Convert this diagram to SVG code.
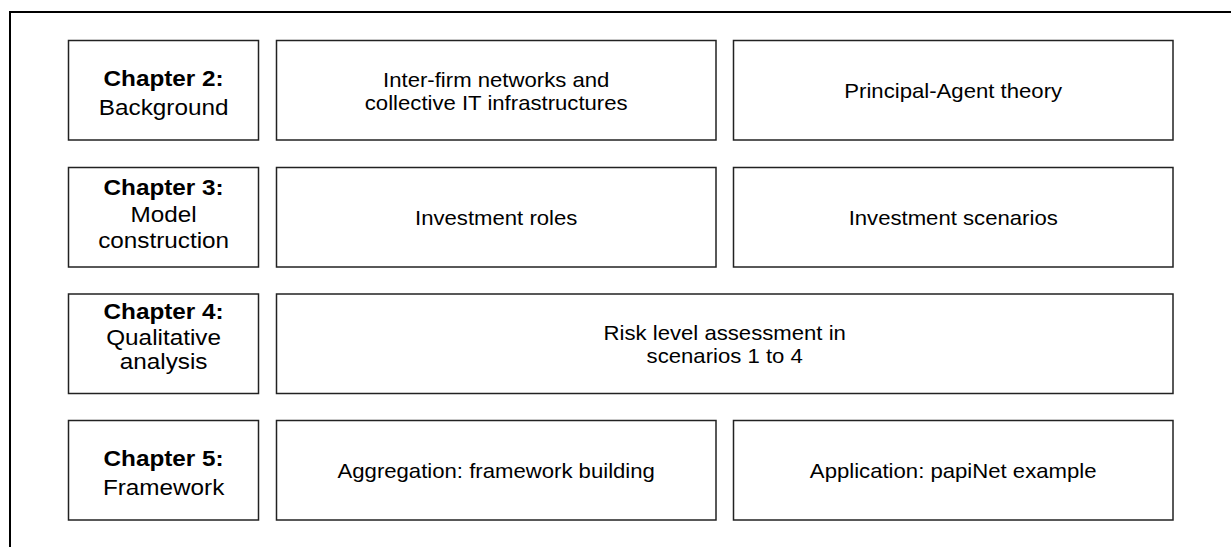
<svg xmlns="http://www.w3.org/2000/svg" width="1231" height="547" viewBox="0 0 1231 547">
<style>
.box{fill:#fff;stroke:#222;stroke-width:1.5}
.frame{stroke:#000;stroke-width:2;fill:none}
text{font-family:"Liberation Sans",Arial,sans-serif;fill:#000;text-anchor:middle}
.lbl{font-size:22.5px}
.b{font-weight:bold}
.c{font-size:20.5px}
</style>
<rect width="1231" height="547" fill="#fff"/>
<g id="frame">
<path class="frame" d="M9 12H1231M10 11V547"/>
</g>
<g id="ch2">
<rect class="box" x="68.5" y="40.5" width="190" height="99.5"/>
<text class="lbl b" transform="translate(163.6 0) scale(1.08 1)" y="86">Chapter 2:</text>
<text class="lbl" transform="translate(163.6 0) scale(1.08 1)" y="115">Background</text>
</g>
<g id="interfirm">
<rect class="box" x="276.5" y="40.5" width="439.5" height="99.5"/>
<text class="c" transform="translate(496.2 0) scale(1.08 1)" y="86.7">Inter-firm networks and</text>
<text class="c" transform="translate(496.2 0) scale(1.08 1)" y="110">collective IT infrastructures</text>
</g>
<g id="principal">
<rect class="box" x="733.5" y="40.5" width="439.5" height="99.5"/>
<text class="c" transform="translate(953.2 0) scale(1.08 1)" y="98">Principal-Agent theory</text>
</g>
<g id="ch3">
<rect class="box" x="68.5" y="167.5" width="190" height="99.5"/>
<text class="lbl b" transform="translate(163.6 0) scale(1.08 1)" y="195">Chapter 3:</text>
<text class="lbl" transform="translate(163.6 0) scale(1.08 1)" y="222">Model</text>
<text class="lbl" transform="translate(163.6 0) scale(1.08 1)" y="248.5">construction</text>
</g>
<g id="roles">
<rect class="box" x="276.5" y="167.5" width="439.5" height="99.5"/>
<text class="c" transform="translate(496.2 0) scale(1.08 1)" y="225">Investment roles</text>
</g>
<g id="scenarios">
<rect class="box" x="733.5" y="167.5" width="439.5" height="99.5"/>
<text class="c" transform="translate(953.2 0) scale(1.08 1)" y="225">Investment scenarios</text>
</g>
<g id="ch4">
<rect class="box" x="68.5" y="294" width="190" height="99.5"/>
<text class="lbl b" transform="translate(163.6 0) scale(1.08 1)" y="319.5">Chapter 4:</text>
<text class="lbl" transform="translate(163.6 0) scale(1.08 1)" y="345">Qualitative</text>
<text class="lbl" transform="translate(163.6 0) scale(1.08 1)" y="369">analysis</text>
</g>
<g id="risk">
<rect class="box" x="276.5" y="294" width="896.5" height="99.5"/>
<text class="c" transform="translate(724.7 0) scale(1.08 1)" y="339.8">Risk level assessment in</text>
<text class="c" transform="translate(724.7 0) scale(1.08 1)" y="363.1">scenarios 1 to 4</text>
</g>
<g id="ch5">
<rect class="box" x="68.5" y="420.5" width="190" height="99.5"/>
<text class="lbl b" transform="translate(163.6 0) scale(1.08 1)" y="466.5">Chapter 5:</text>
<text class="lbl" transform="translate(163.6 0) scale(1.08 1)" y="495">Framework</text>
</g>
<g id="aggregation">
<rect class="box" x="276.5" y="420.5" width="439.5" height="99.5"/>
<text class="c" transform="translate(496.2 0) scale(1.08 1)" y="478">Aggregation: framework building</text>
</g>
<g id="application">
<rect class="box" x="733.5" y="420.5" width="439.5" height="99.5"/>
<text class="c" transform="translate(953.2 0) scale(1.08 1)" y="478">Application: papiNet example</text>
</g>
<g id="connectors"/>
</svg>
